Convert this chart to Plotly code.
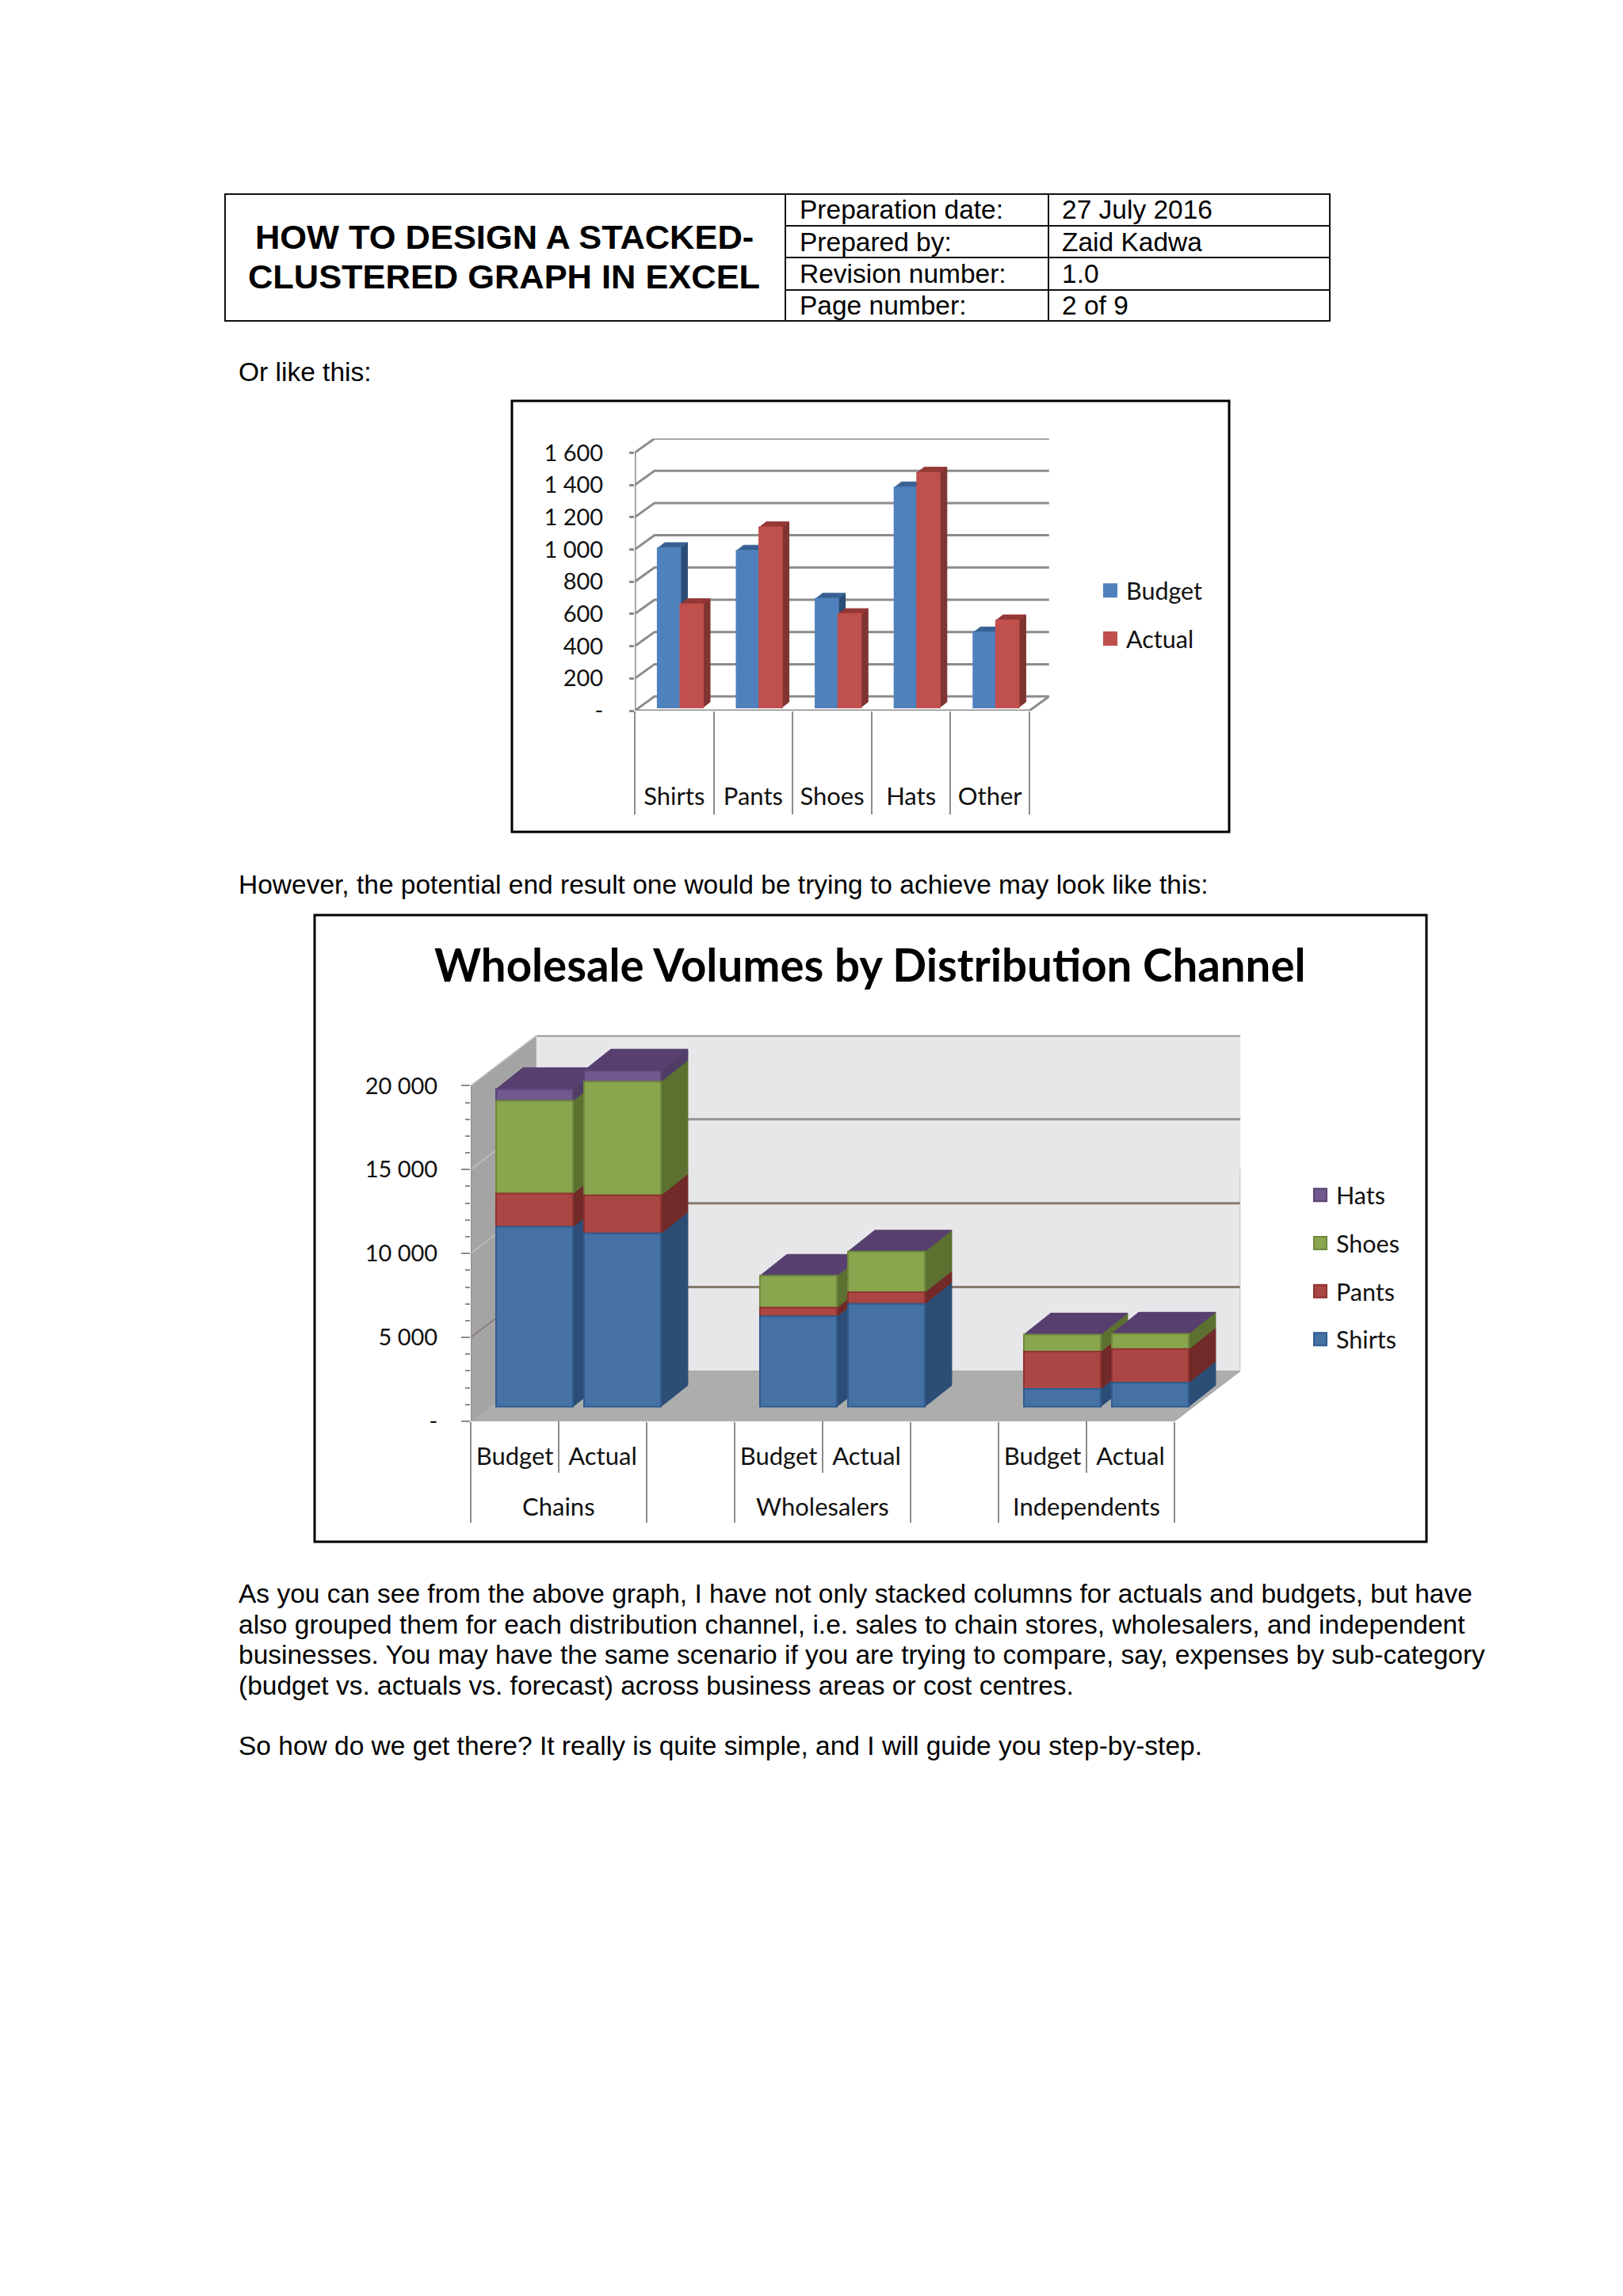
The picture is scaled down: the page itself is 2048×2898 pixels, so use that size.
import plotly.graph_objects as go

W, H = 2048, 2898

# ---------- data ----------
cats1 = ["Shirts", "Pants", "Shoes", "Hats", "Other"]
budget1 = [988, 972, 674, 1365, 465]
actual1 = [640, 1117, 579, 1456, 540]
ticks1 = [0, 200, 400, 600, 800, 1000, 1200, 1400, 1600]
ticklabels1 = ["-", "200", "400", "600", "800", "1 000", "1 200", "1 400", "1 600"]

groups2 = ["Chains", "Wholesalers", "Independents"]
cols2 = ["Budget", "Actual"]
shirts2 = [10720, 10330, 5385, 6125, 1060, 1430]
pants2 = [1980, 2270, 515, 695, 2225, 2000]
shoes2 = [5530, 6770, 1900, 2420, 1015, 920]
hats2 = [690, 660, 0, 0, 0, 0]
ticks2 = [0, 5000, 10000, 15000, 20000]
ticklabels2 = ["-", "5 000", "10 000", "15 000", "20 000"]

title_lines = ["HOW TO DESIGN A STACKED-", "CLUSTERED GRAPH IN EXCEL"]
table_rows = [("Preparation date:", "27 July 2016"), ("Prepared by:", "Zaid Kadwa"),
              ("Revision number:", "1.0"), ("Page number:", "2 of 9")]
body_text = [
    (469, "Or like this:"),
    (1116, "However, the potential end result one would be trying to achieve may look like this:"),
    (2011, "As you can see from the above graph, I have not only stacked columns for actuals and budgets, but have"),
    (2050, "also grouped them for each distribution channel, i.e. sales to chain stores, wholesalers, and independent"),
    (2088, "businesses. You may have the same scenario if you are trying to compare, say, expenses by sub-category"),
    (2127, "(budget vs. actuals vs. forecast) across business areas or cost centres."),
    (2203, "So how do we get there? It really is quite simple, and I will guide you step-by-step."),
]
chart_title = "Wholesale Volumes by Distribution Channel"

# ---------- helpers ----------
fx = lambda p: p / W
fy = lambda p: 1 - p / H
PAGE_FONT = "Liberation Sans"
CHART_FONT = "Lato"
GRID = "#8C8C8C"


def polys(items):
    xs, ys = [], []
    for pts in items:
        xs += [p[0] for p in pts] + [pts[0][0], None]
        ys += [p[1] for p in pts] + [pts[0][1], None]
    return xs, ys


def side(x1, v0, v1, dx, dv):
    return [(x1, v0), (x1, v1), (x1 + dx, v1 + dv), (x1 + dx, v0 + dv)]


def top(x0, x1, v, dx, dv):
    return [(x0, v), (x1, v), (x1 + dx, v + dv), (x0 + dx, v + dv)]


fig = go.Figure()


def face(items, color, xa, ya, line=None, width=1):
    xs, ys = polys(items)
    fig.add_trace(go.Scatter(x=xs, y=ys, xaxis=xa, yaxis=ya, mode="lines", fill="toself",
                             fillcolor=color, line=dict(color=line or color, width=width),
                             hoverinfo="skip", showlegend=False))


def seg(xs, ys, color, width, xa, ya):
    fig.add_trace(go.Scatter(x=xs, y=ys, xaxis=xa, yaxis=ya, mode="lines",
                             line=dict(color=color, width=width), hoverinfo="skip", showlegend=False))


def legend_entry(name, col, lc, legend, xa, ya):
    fig.add_trace(go.Scatter(name=name, x=[None], y=[None], mode="markers", xaxis=xa, yaxis=ya, legend=legend,
                             legendgroup=name, hoverinfo="skip",
                             marker=dict(symbol="square", size=16, color=col, line=dict(color=lc, width=2))))


# ---------- chart 1 (clustered, pseudo 3-D) ----------
D1X, D1V = 0.25, 88          # wall depth in axis units
B1S, B1W = 0.29, 0.287       # bar start and width within a category
B1DX, B1DV = 0.09, 34        # bar depth
B1V0 = 20                    # bar base lift
n1 = len(cats1)

face([[(0, 0), (n1, 0), (n1 + D1X, D1V), (D1X, D1V)]], "white", "x", "y", line=GRID, width=3)
for t in ticks1[1:]:
    seg([0, D1X, n1 + D1X], [t, t + D1V, t + D1V], GRID, 3, "x", "y")
seg([0, 0], [0, ticks1[-1]], GRID, 3, "x", "y")

for k, (vals, sc, tc) in enumerate([(budget1, "#2C4D75", "#386192"), (actual1, "#7F3432", "#953735")]):
    xs0 = [i + B1S + k * B1W for i in range(n1)]
    face([side(x + B1W, B1V0, B1V0 + v, B1DX, B1DV) for x, v in zip(xs0, vals)], sc, "x", "y")
    face([top(x, x + B1W, B1V0 + v, B1DX, B1DV) for x, v in zip(xs0, vals)], tc, "x", "y")

for k, (name, vals, col) in enumerate([("Budget", budget1, "#4F81BD"), ("Actual", actual1, "#C0504D")]):
    fig.add_trace(go.Bar(name=name, x=[i + B1S + k * B1W for i in range(n1)], y=vals, base=[B1V0] * n1,
                         width=B1W, offset=0, xaxis="x2", yaxis="y2", showlegend=False, legendgroup=name,
                         marker=dict(color=col, line=dict(color=col, width=2)), hoverinfo="skip"))
    legend_entry(name, col, col, "legend", "x2", "y2")

# ---------- chart 2 (stacked + clustered, pseudo 3-D) ----------
SLOTS = 8
D2X, D2V = 0.75, 3000
B2S, B2W = 0.288, 0.874
B2DX, B2DV = 0.306, 1275
B2V0 = 873
bar_slots = [0, 1, 3, 4, 6, 7]

face([[(0, 0), (0, ticks2[-1]), (D2X, ticks2[-1] + D2V), (D2X, D2V)]], "#A4A4A4", "x3", "y3", line="#B5B5B5")
face([[(D2X, D2V), (D2X, ticks2[-1] + D2V), (SLOTS + D2X, ticks2[-1] + D2V), (SLOTS + D2X, D2V)]],
     "#E7E7E9", "x3", "y3", line="#E7E7E9")
face([[(0, 0), (SLOTS, 0), (SLOTS + D2X, D2V), (D2X, D2V)]], "#ADADAD", "x3", "y3", line="#A6A6A6")
grid_cols = {5000: "#85796C", 10000: "#85796C", 15000: "#959595", 20000: "#8E8E8E"}
for t in ticks2[1:]:
    seg([D2X, SLOTS + D2X], [t + D2V, t + D2V], grid_cols[t], 3.5 if t == 20000 else 3, "x3", "y3")
    seg([0, D2X], [t, t + D2V], "#C0C0C0" if t != 5000 else "#85706A", 1.5, "x3", "y3")
seg([SLOTS + D2X] * 2, [D2V, 15000 + D2V - 3000], "#B9BE94", 1.5, "x3", "y3")
seg([0, 0], [0, ticks2[-1]], "#8E8E8E", 2.5, "x3", "y3")

series2 = [("Shirts", shirts2, "#4571A4", "#2C4D75", "#2F5B8F"),
           ("Pants", pants2, "#AA4643", "#712A28", "#8E3331"),
           ("Shoes", shoes2, "#89A54E", "#5C702F", "#70893B"),
           ("Hats", hats2, "#71588F", "#4F3D66", "#5A4673")]
cum = [B2V0] * len(bar_slots)
xs2 = [s + B2S for s in bar_slots]
fronts = []
for name, vals, col, sc, lc in series2:
    face([side(x + B2W, c, c + v, B2DX, B2DV) for x, c, v in zip(xs2, cum, vals) if v > 0], sc, "x3", "y3")
    fronts.append((name, vals, list(cum), col, lc))
    cum = [c + v for c, v in zip(cum, vals)]
face([top(x, x + B2W, c, B2DX, B2DV) for x, c in zip(xs2, cum)], "#57406F", "x3", "y3")

# top series first so that the legend reads Hats, Shoes, Pants, Shirts
for name, vals, base, col, lc in reversed(fronts):
    fig.add_trace(go.Bar(name=name, x=xs2, y=vals, base=base, width=B2W, offset=0, xaxis="x4", yaxis="y4",
                         showlegend=False, legendgroup=name,
                         marker=dict(color=col, line=dict(color=lc, width=2)), hoverinfo="skip"))
    legend_entry(name, col, lc, "legend2", "x4", "y4")

# ---------- axes ----------
P1L, P1B, PX1, PV1 = 801, 897, 99.6, 40.7 / 200
P2L, P2B, PX2, PV2 = 594, 1794, 111, 105.9 / 5000
dom1x = [fx(P1L), fx(P1L + (n1 + D1X) * PX1)]
rng1y = ticks1[-1] + D1V
dom1y = [fy(P1B), fy(P1B - rng1y * PV1)]
dom2x = [fx(P2L), fx(P2L + (SLOTS + D2X) * PX2)]
rng2y = ticks2[-1] + D2V
dom2y = [fy(P2B), fy(P2B - rng2y * PV2)]

ytickfont = dict(family=CHART_FONT, size=29, color="#111111")
xtickfont = dict(family=CHART_FONT, size=31, color="#111111")
layout_axes = dict(
    xaxis=dict(domain=dom1x, range=[0, n1 + D1X], anchor="y", showgrid=False, zeroline=False, showline=False,
               automargin=False,
               tickmode="array", tickvals=[i + 0.5 for i in range(n1)], ticktext=cats1, tickangle=0,
               ticks="outside", ticklen=81, tickwidth=0, tickcolor="rgba(0,0,0,0)", tickfont=xtickfont,
               minor=dict(tickmode="array", tickvals=list(range(n1 + 1)), ticks="outside", ticklen=130,
                          tickwidth=2, tickcolor=GRID, showgrid=False)),
    yaxis=dict(domain=dom1y, range=[0, rng1y], anchor="x", showgrid=False, zeroline=False, showline=False,
               automargin=False,
               tickmode="array", tickvals=ticks1, ticktext=ticklabels1, ticks="outside", ticklen=6, tickwidth=3,
               tickcolor=GRID, ticklabelstandoff=27, tickfont=ytickfont),
    xaxis2=dict(domain=dom1x, range=[0, n1 + D1X], overlaying="x", anchor="y2", visible=False, automargin=False),
    yaxis2=dict(domain=dom1y, range=[0, rng1y], overlaying="y", anchor="x2", visible=False, automargin=False),
    xaxis3=dict(domain=dom2x, range=[0, SLOTS + D2X], anchor="y3", showgrid=False, zeroline=False, showline=False,
                automargin=False,
                tickmode="array", tickvals=[s + 0.5 for s in bar_slots], ticktext=cols2 * len(groups2), tickangle=0,
                ticks="outside", ticklen=17, tickwidth=0, tickcolor="rgba(0,0,0,0)", tickfont=xtickfont,
                minor=dict(tickmode="array", tickvals=[0, 2, 3, 5, 6, 8], ticks="outside", ticklen=127,
                           tickwidth=2, tickcolor=GRID, showgrid=False)),
    yaxis3=dict(domain=dom2y, range=[0, rng2y], anchor="x3", showgrid=False, zeroline=False, showline=False,
                automargin=False,
                tickmode="array", tickvals=ticks2, ticktext=ticklabels2, ticks="outside", ticklen=11, tickwidth=2,
                tickcolor=GRID, ticklabelstandoff=24, tickfont=ytickfont,
                minor=dict(tickmode="array", tickvals=[t for t in range(1000, 20000, 1000) if t % 5000],
                           ticks="outside", ticklen=6, tickwidth=1.5, tickcolor=GRID, showgrid=False)),
    xaxis4=dict(domain=dom2x, range=[0, SLOTS + D2X], overlaying="x3", anchor="y4", visible=False, automargin=False),
    yaxis4=dict(domain=dom2y, range=[0, rng2y], overlaying="y3", anchor="x4", visible=False, automargin=False),
)

# ---------- page furniture ----------
shapes = []
LINE = dict(color="#111111", width=2)


def rect(x0, y0, x1, y1, line):
    shapes.append(dict(type="rect", xref="paper", yref="paper", x0=fx(x0), x1=fx(x1), y0=fy(y0), y1=fy(y1),
                       line=line, fillcolor="rgba(0,0,0,0)"))


def hv(x0, y0, x1, y1):
    shapes.append(dict(type="line", xref="paper", yref="paper", x0=fx(x0), x1=fx(x1), y0=fy(y0), y1=fy(y1), line=LINE))


rect(284, 245, 1678, 405, LINE)
for x in (991, 1323):
    hv(x, 245, x, 405)
for y in (285, 325, 366):
    hv(991, y, 1678, y)
rect(646, 506, 1551, 1050, dict(color="#000000", width=3))
rect(397, 1155, 1800, 1946, dict(color="#000000", width=3))

# short separators between Budget and Actual in chart 2
for i in range(len(groups2)):
    xv = 1 + 3 * i
    shapes.append(dict(type="line", xref="x3", yref="paper", x0=xv, x1=xv, y0=fy(P2B), y1=fy(1859),
                       line=dict(color=GRID, width=2)))

ann = []


def text(x, y, s, size=33.5, bold=False, anchor="left", family=PAGE_FONT, color="#000000"):
    ann.append(dict(x=fx(x), y=fy(y), xref="paper", yref="paper", text=f"<b>{s}</b>" if bold else s, showarrow=False,
                    xanchor=anchor, yanchor="middle", align=anchor,
                    font=dict(family=family, size=size, color=color)))


text(636, 299, title_lines[0], size=43.4, bold=True, anchor="center")
text(636, 349, title_lines[1], size=43.4, bold=True, anchor="center")
for (lab, val), y in zip(table_rows, (264, 305, 345, 385)):
    text(1007, y, lab)
    text(1338, y, val)
for y, s in body_text:
    text(299, y, s)
text(1098, 1217, chart_title, size=56.4, bold=True, anchor="center", family=CHART_FONT)

# group labels under chart 2, as second axis level
for i, g in enumerate(groups2):
    ann.append(dict(x=1 + 3 * i, y=fy(1900.5), xref="x3", yref="paper", text=g, showarrow=False,
                    xanchor="center", yanchor="middle", font=xtickfont))

legfont = dict(family=CHART_FONT, size=30.5, color="#111111")
fig.update_layout(
    width=W, height=H, autosize=False, margin=dict(l=0, r=0, t=0, b=0, pad=0),
    paper_bgcolor="white", plot_bgcolor="rgba(0,0,0,0)", barmode="overlay", showlegend=True,
    shapes=shapes, annotations=ann,
    legend=dict(x=fx(1381), y=fy(719), xanchor="left", yanchor="top", bgcolor="rgba(0,0,0,0)", font=legfont,
                itemsizing="trace", traceorder="grouped", tracegroupgap=18, itemclick=False, itemdoubleclick=False),
    legend2=dict(x=fx(1646), y=fy(1482), xanchor="left", yanchor="top", bgcolor="rgba(0,0,0,0)", font=legfont,
                 itemsizing="trace", traceorder="grouped", tracegroupgap=18, itemclick=False, itemdoubleclick=False),
    **layout_axes,
)

fig.write_html("out.html", config={"displayModeBar": False},
               post_script="document.body.style.margin='0';document.body.style.overflow='hidden';")
